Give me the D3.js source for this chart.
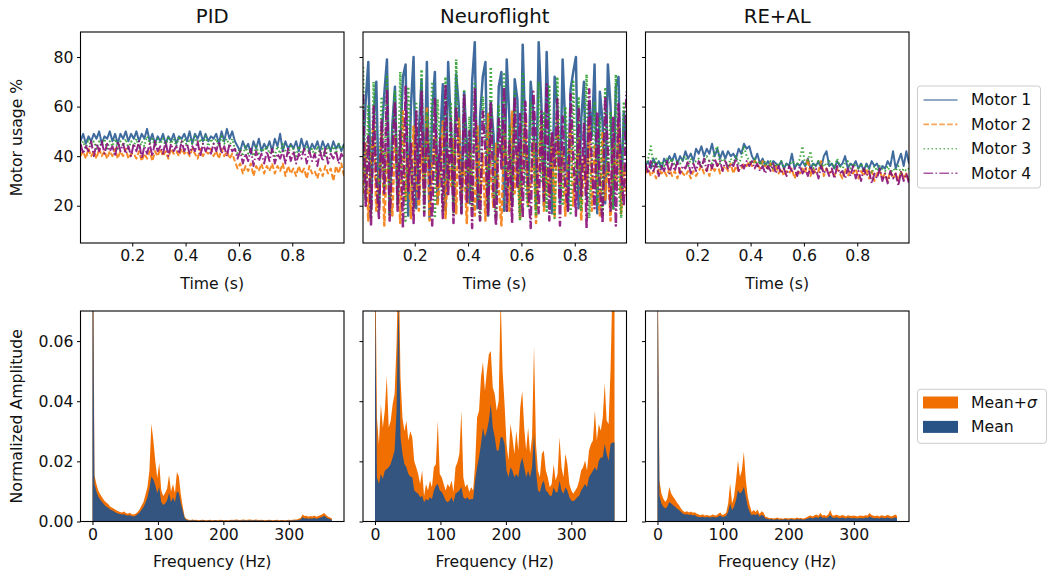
<!DOCTYPE html>
<html>
<head>
<meta charset="utf-8">
<script src="https://cdn.jsdelivr.net/npm/d3@7"></script>
<style>
  body { margin: 0; background: #fff; }
  svg { font-family: "DejaVu Sans", sans-serif; }
</style>
</head>
<body>
<svg id="chart" width="1051" height="576"></svg>
<script>
// ---- data -------------------------------------------------------------
const controllers = ["PID", "Neuroflight", "RE+AL"];
const motorNames = ["Motor 1", "Motor 2", "Motor 3", "Motor 4"];

// sample times (s), 100 samples per trace
const timeS = d3.range(100).map(i => 0.006 + i * 0.00998);

// motor usage % per controller, one array per motor
const pidM1 = [46,49,45,48,46,49,47,50,45,48, 47,50,46,49,45,49,47,50,46,49, 47,50,46,49,47,51,46,49,45,48, 46,49,45,48,46,49,45,48,47,49,
  46,50,45,49,47,50,46,49,46,48, 47,49,45,50,46,51,47,50,46,44, 42,46,43,45,41,46,43,47,42,45, 43,46,42,47,44,49,42,46,43,45,
  43,46,42,47,43,46,42,45,43,46, 42,46,43,45,42,46,43,45,42,45];
const pidM2 = [40,42,39,43,40,42,39,43,40,42, 39,42,40,43,39,42,40,43,39,41, 41,39,42,38,41,39,42,38,42,40, 43,40,42,39,43,41,42,40,43,41,
  42,40,43,41,39,43,40,42,41,43, 40,42,39,43,40,42,39,41,38,35, 37,33,36,34,37,32,36,34,37,33, 36,34,37,33,36,34,37,32,36,33,
  35,32,36,33,35,31,36,33,34,31, 35,32,36,33,35,30,36,33,37,32];
const pidM3 = [44,46,43,47,44,46,43,46,44,47, 43,46,44,47,43,46,44,47,43,46, 44,47,43,46,44,48,45,47,44,47, 45,47,44,48,45,47,44,48,45,47,
  44,47,45,48,44,47,45,48,44,47, 45,47,44,48,45,47,44,47,43,41, 43,40,44,41,43,40,44,41,43,42, 44,41,43,40,44,41,45,42,41,44,
  43,40,44,41,42,44,41,43,40,44, 41,43,40,44,42,44,41,45,43,44];
const pidM4 = [45,41,44,42,46,40,45,42,46,41, 45,42,44,40,46,42,45,41,44,40, 45,42,46,39,44,41,45,40,46,42, 44,41,46,40,45,42,44,41,46,42,
  45,41,44,42,46,40,45,42,44,41, 45,42,46,41,44,40,45,42,43,39, 42,37,41,38,43,36,42,38,41,37, 42,38,43,37,41,39,42,37,43,38,
  42,37,41,39,43,37,42,38,41,36, 42,38,43,37,41,39,42,37,41,39];

const nfM1 = [40,62,78,18,55,70,20,48,65,79, 17,52,68,22,44,72,77,16,60,80, 19,50,71,24,78,15,58,74,21,46, 69,18,78,52,20,73,60,17,66,45,
  21,70,86,19,56,72,78,16,62,49, 23,68,74,18,79,55,20,71,63,17, 85,48,22,70,58,19,86,61,20,82, 46,17,72,60,21,79,52,18,67,74,
  80,19,55,70,23,62,48,77,17,66, 54,21,77,60,19,68,72,22,58,45];
const nfM2 = [25,45,14,38,55,18,30,50,12,42, 28,16,48,35,13,58,22,40,15,52, 30,18,44,26,60,14,36,48,20,32, 54,15,40,28,47,17,55,24,38,13,
  46,30,16,52,22,41,14,57,33,19, 45,27,12,50,36,18,58,25,42,15, 38,55,20,30,46,13,40,52,18,35, 24,48,15,56,28,42,16,38,53,20,
  34,47,14,40,26,55,18,44,30,16, 50,22,38,14,45,28,53,17,36,24];
const nfM3 = [76,22,60,15,70,35,18,64,28,72, 16,48,66,20,74,30,14,68,40,19, 62,25,75,17,58,36,70,15,63,42, 18,72,30,61,16,79,38,20,67,25,
  56,18,70,33,14,64,48,19,76,27, 15,60,40,73,18,52,22,66,35,14, 74,28,19,62,45,16,70,30,58,18, 68,24,15,72,36,20,60,42,17,70,
  26,64,18,50,73,15,38,62,20,55, 16,67,32,58,19,73,28,15,62,40];
const nfM4 = [65,20,48,12,60,30,15,55,25,67, 14,40,62,18,50,11,68,26,45,13, 58,22,66,16,52,35,12,63,28,47, 15,69,24,55,13,60,38,17,65,21,
  50,11,67,30,14,58,42,16,62,25, 12,55,35,68,18,46,13,64,27,57, 15,62,30,11,66,44,17,58,22,69, 14,50,36,63,12,56,28,18,65,40,
  16,60,24,53,11,67,35,19,58,27, 13,64,42,18,56,12,61,33,20,66];

const realM1 = [36,38,35,39,36,38,35,39,37,40, 38,41,37,40,38,42,39,41,38,43, 41,44,40,43,41,45,40,43,39,42, 39,42,40,41,39,43,41,45,43,44,
  40,38,41,37,39,36,38,36,38,37, 36,38,35,37,36,41,35,37,36,38, 36,39,35,37,36,38,35,40,42,36, 37,35,38,36,37,40,35,37,36,38,
  35,37,34,37,35,38,36,37,34,36, 35,38,36,42,35,38,41,36,42,37];
const realM2 = [33,35,32,34,31,35,33,34,32,35, 32,34,31,35,33,32,34,31,34,32, 34,36,33,35,32,36,34,37,33,35, 36,34,37,33,36,34,35,37,36,38,
  36,38,37,35,38,36,35,37,34,36, 33,35,32,34,33,35,31,34,33,35, 33,39,32,35,33,34,38,32,35,33, 34,32,35,33,31,35,32,34,33,35,
  31,34,32,35,31,34,30,33,34,31, 33,30,34,31,33,30,34,31,33,30];
const realM3 = [36,39,44,36,39,35,38,36,39,37, 39,36,38,37,39,40,36,39,37,38, 39,36,38,40,38,37,42,44,37,39, 38,36,39,37,40,37,39,44,40,38,
  37,39,36,38,36,38,35,38,35,37, 36,38,35,37,36,38,37,36,39,44, 36,38,42,35,37,38,35,37,36,38, 37,35,39,36,35,37,38,35,37,36,
  35,37,34,36,35,33,36,34,36,35, 34,36,33,35,34,36,33,35,34,35];
const realM4 = [37,33,38,34,37,32,36,34,38,33, 37,34,38,33,36,35,38,33,37,34, 38,35,39,34,38,35,39,36,38,34, 38,35,37,36,39,34,37,35,38,36,
  38,35,37,34,36,33,36,34,37,33, 36,33,35,32,36,34,35,32,36,33, 35,32,36,33,35,31,36,33,35,32, 35,31,36,33,34,31,35,32,36,31,
  34,30,35,32,34,29,33,31,35,30, 33,29,34,31,33,28,34,30,33,29];

// frequency bins (Hz), 3 Hz apart, 0..366
const freqHz = d3.range(0, 367, 3);

// normalized amplitude, in units of 1e-3 (mean+sigma and mean)
const pidSigma = [150,15.5,12.5,10.2,9.0,8.0,7.0,6.3,5.8,5.0, 4.6,4.2,3.7,3.5,3.2,3.0,3.3,2.8,2.6,2.9, 2.4,2.3,2.6,3.2,4.0,5.3,6.5,9.0,11.5,17.0,
  32.5,27.0,20.0,14.5,19.5,10.5,8.5,9.5,11.0,15.5, 10.0,12.5,9.5,16.5,15.0,9.0,4.8,1.5,0.8,
  0.6,0.5,0.7,0.5,0.6,0.4,0.5,0.6,0.5,0.4, 0.5,0.6,0.4,0.5,0.5,0.4,0.6,0.5,0.4,0.5, 0.4,0.5,0.6,0.5,0.7,0.6,0.5,0.6,0.7,0.5,
  0.6,0.7,0.6,0.5,0.7,0.6,0.5,0.6,0.5,0.4, 0.5,0.6,0.5,0.4,0.5,0.6,0.4,0.5,0.5,0.4, 0.5,0.6,0.5,0.6,0.7,
  0.7,0.9,1.2,2.3,1.8,1.9,1.6,1.8,1.7,2.0,1.6,1.8,2.1,2.4,2.8,2.2,1.6,1.3,0.9];
const pidMean = [120,12.5,10.0,8.2,7.2,6.4,5.6,5.0,4.6,4.0, 3.7,3.3,2.9,2.7,2.5,2.3,2.4,2.1,2.0,2.1, 1.8,1.7,1.9,2.4,3.0,3.9,4.8,6.2,8.0,11.0,
  15.0,14.0,12.0,9.5,11.5,6.5,5.5,6.0,7.0,9.5, 6.5,8.0,6.5,10.0,9.5,6.0,3.5,1.0,0.5,
  0.3,0.3,0.4,0.3,0.3,0.2,0.3,0.3,0.3,0.2, 0.3,0.3,0.2,0.3,0.3,0.2,0.3,0.3,0.2,0.3, 0.2,0.3,0.3,0.3,0.4,0.3,0.3,0.3,0.4,0.3,
  0.3,0.4,0.3,0.3,0.4,0.3,0.3,0.3,0.3,0.2, 0.3,0.3,0.3,0.2,0.3,0.3,0.2,0.3,0.3,0.2, 0.3,0.3,0.3,0.3,0.4,
  0.4,0.5,0.7,1.4,1.0,1.1,0.9,1.0,1.0,1.2,0.9,1.1,1.3,1.5,1.9,1.4,1.0,0.8,0.5];

const nfSigma = [100,34.6,25.8,39,31.3,36.8,48.4,31.3,33.5,39, 42.4,59,90,48,34.6,30,33.5,26.9,30,28, 20,18,15.8,12.5,17,8.5,12.5,10.3,13.6,11.4,
  18,19,33.5,15.8,14.7,12.5,10.3,12.5,11.4,13.6, 9.8,18,19.7,22.5,36.8,14.7,11.4,12.5,9.8,11.4, 10.3,19,34.6,36.8,48,53,43.5,50,55.6,56.7,
  44.6,42.4,36.8,40,75,50,39,25.8,20.3,32.4, 28,22.5,30.2,23.6,38,43.5,31.3,23.6,31.3,22.5, 28,58.4,25.8,17,14.7,22.5,23.6,17,14.7,11.4,
  12.5,19,13.6,15.8,28,18,14.7,22.5,19,12.5, 10.3,9.2,10.3,11.4,13.6,17,18,20.3,17,23.6, 25.8,26.9,36.8,26.9,32.4,30.2,34.6,46,33.5,32.4,
  51,80,90];
const nfMean = [80,14.7,12.5,15.8,14.2,16.9,17.5,18,19.1,21.3, 23.6,36.8,75,28,22.5,19.1,18,15.8,15,14.7, 10.3,9.7,9.2,8.1,8.6,6.4,7.5,7.0,8.1,7.5,
  10.3,11.9,12.5,10.3,9.8,8.6,7.0,6.4,7.0,8.1, 6.4,9.2,9.7,10.3,11.5,8.1,7.5,8.1,7.2,7.5, 7.5,13.6,18,21.3,25.8,31.3,28,30.2,33.5,39,
  31.3,28,23.6,23.6,28,28,25.8,16.9,14.7,18, 16.9,14.7,15.8,14.7,19,21.3,18,14.7,16.9,14.7, 18,29,16.9,10.3,9.7,12.5,13.6,10.3,9.7,8.6,
  8.6,11.4,9.7,9.7,13.6,10.3,9.2,11.4,10.3,8.1, 7.0,6.7,7.2,8.1,8.6,10.3,11.4,12.5,11.4,14.7, 15.8,16.9,18,16.9,20.2,21.3,21.3,25.8,22.5,20.2,
  25.8,26.3,26.3];

const realSigma = [100,13.7,9.3,7.6,6.5,7.6,11.5,9.3,8.2,7.3, 6.2,5.4,4.3,3.5,3.2,3.4,3.0,3.3,2.9,3.1, 2.6,2.3,2.1,2.4,2.0,2.2,2.0,1.9,2.3,2.1,
  2.0,2.6,3.0,2.2,2.4,2.9,6.0,12.6,6.0,8.2, 13.7,20.4,14.8,17.1,23.2,13.7,8.2,5.4,3.2,3.8, 3.2,4.0,2.4,3.4,3.0,1.6,1.4,
  1.1,1.2,1.0,1.1,1.3,1.0,1.1,0.9,1.2,1.1,1.0,1.2,1.1,1.0,1.3,1.1,1.2,1.0,1.1,1.4,
  1.8,2.0,1.7,2.1,2.3,1.9,2.9,2.0,2.2,1.8,2.4,3.8,2.1,1.9,2.3,2.0,1.8,2.2,2.0,1.7,2.1,1.9,1.8,2.0,
  1.8,1.7,2.0,1.9,1.8,2.1,2.0,2.8,2.2,1.9,1.8,2.0,1.7,2.1,1.9,1.8,2.2,2.0,1.7,1.9,2.3,1.9];
const realMean = [90,8.5,6.0,4.9,4.3,4.9,6.5,6.0,5.4,4.9, 4.2,3.8,3.2,2.6,2.3,2.4,2.2,2.3,2.0,2.2, 1.7,1.5,1.4,1.6,1.3,1.5,1.4,1.3,1.5,1.4,
  1.3,1.7,2.0,1.5,1.6,1.9,3.2,6.0,3.8,4.9, 7.1,10.4,9.3,10.0,11.5,8.2,4.9,3.2,2.1,2.4, 2.1,2.6,1.6,2.2,1.9,1.0,0.9,
  0.7,0.8,0.6,0.7,0.8,0.6,0.7,0.6,0.8,0.7,0.6,0.8,0.7,0.6,0.8,0.7,0.8,0.6,0.7,0.9,
  1.1,1.3,1.0,1.3,1.4,1.2,1.8,1.2,1.3,1.1,1.5,2.2,1.3,1.2,1.4,1.2,1.1,1.3,1.2,1.0,1.3,1.2,1.1,1.2,
  1.1,1.0,1.2,1.1,1.1,1.3,1.2,1.7,1.3,1.2,1.1,1.2,1.0,1.3,1.2,1.1,1.3,1.2,1.0,1.1,1.4,1.1];

const motorData = [[pidM1, pidM2, pidM3, pidM4], [nfM1, nfM2, nfM3, nfM4], [realM1, realM2, realM3, realM4]];
const specData = [[pidSigma, pidMean], [nfSigma, nfMean], [realSigma, realMean]];

// ---- layout -----------------------------------------------------------
const svg = d3.select("#chart");
const fs = 15.7;
const cols = [80.5, 363, 645.5], pw = 263.5;
const topY = 32, topH = 211, botY = 311, botH = 210.5;

const motorColor = ["#2b5b93", "#f57d0f", "#2ea12e", "#8a0f7a"];
const motorDash = [null, "5.5,2.4", "1.5,2.5", "9.6,2.4,1.5,2.4"];
const orange = "#f06f00", blue = "#285386";

const x = d3.scaleLinear().domain([0.006, 0.994]).range([0, pw]);
const y = d3.scaleLinear().domain([4.95, 90.1]).range([topH, 0]);
const fx = d3.scaleLinear().domain([-18.3, 384.3]).range([0, pw]);
const fy = d3.scaleLinear().domain([0, 0.07]).range([botH, 0]);

function styleAxis(g) {
  g.select(".domain").remove();
  g.selectAll(".tick line").attr("stroke", "#000").attr("stroke-width", 1);
  g.selectAll(".tick text").attr("fill", "#111").style("font-size", fs + "px").style("font-family", "DejaVu Sans");
}

function frame(g, h) {
  g.append("rect").attr("width", pw).attr("height", h)
    .attr("fill", "none").attr("stroke", "#000").attr("stroke-width", 1.1);
}

const line = d3.line().x((d, i) => x(timeS[i])).y(d => y(d));
const area = d3.area().x((d, i) => fx(freqHz[i])).y0(fy(0)).y1(d => fy(d / 1000));

controllers.forEach((name, c) => {
  // top: motor usage
  const g = svg.append("g").attr("transform", `translate(${cols[c]},${topY})`);
  svg.append("clipPath").attr("id", "clipT" + c).append("rect").attr("width", pw).attr("height", topH);
  const plot = g.append("g").attr("clip-path", `url(#clipT${c})`);
  motorData[c].forEach((vals, m) => {
    plot.append("path").datum(vals).attr("d", line)
      .attr("fill", "none").attr("stroke", motorColor[m]).attr("stroke-width", c === 1 ? 2.5 : 2.0)
      .attr("stroke-opacity", 0.9).attr("stroke-linejoin", "round").attr("stroke-dasharray", motorDash[m]);
  });
  g.append("g").attr("transform", `translate(0,${topH})`)
    .call(d3.axisBottom(x).tickValues([0.2, 0.4, 0.6, 0.8]).tickFormat(d3.format(".1f")).tickSize(3.5).tickPadding(3.5))
    .call(styleAxis);
  g.append("g")
    .call(d3.axisLeft(y).tickValues([20, 40, 60, 80]).tickSize(3.5).tickPadding(3.5).tickFormat(c === 0 ? d3.format("d") : ""))
    .call(styleAxis);
  frame(g, topH);
  g.append("text").attr("x", pw / 2).attr("y", -9.5).attr("text-anchor", "middle")
    .style("font-size", "19.7px").attr("fill", "#111").text(name);
  g.append("text").attr("x", pw / 2).attr("y", 256.5).attr("text-anchor", "middle")
    .style("font-size", fs + "px").attr("fill", "#111").text("Time (s)");

  // bottom: spectrum
  const b = svg.append("g").attr("transform", `translate(${cols[c]},${botY})`);
  svg.append("clipPath").attr("id", "clipB" + c).append("rect").attr("width", pw).attr("height", botH);
  const sp = b.append("g").attr("clip-path", `url(#clipB${c})`);
  sp.append("path").datum(specData[c][0]).attr("d", area).attr("fill", orange);
  sp.append("path").datum(specData[c][1]).attr("d", area).attr("fill", blue).attr("fill-opacity", 0.95);
  b.append("g").attr("transform", `translate(0,${botH})`)
    .call(d3.axisBottom(fx).tickValues([0, 100, 200, 300]).tickSize(3.5).tickPadding(3.5))
    .call(styleAxis);
  b.append("g")
    .call(d3.axisLeft(fy).tickValues([0, 0.02, 0.04, 0.06]).tickSize(3.5).tickPadding(3.5).tickFormat(c === 0 ? d3.format(".2f") : ""))
    .call(styleAxis);
  frame(b, botH);
  b.append("text").attr("x", pw / 2).attr("y", 256).attr("text-anchor", "middle")
    .style("font-size", fs + "px").attr("fill", "#111").text("Frequency (Hz)");
});

// y axis labels
svg.append("text").attr("transform", `translate(22,${topY + topH / 2}) rotate(-90)`).attr("text-anchor", "middle")
  .style("font-size", fs + "px").attr("fill", "#111").text("Motor usage %");
svg.append("text").attr("transform", `translate(22,${botY + botH / 2}) rotate(-90)`).attr("text-anchor", "middle")
  .style("font-size", fs + "px").attr("fill", "#111").text("Normalized Amplitude");

// legend: motors
const lg = svg.append("g").attr("transform", "translate(917.5,86)");
lg.append("rect").attr("width", 123).attr("height", 102).attr("rx", 3)
  .attr("fill", "#fff").attr("fill-opacity", 0.8).attr("stroke", "#cccccc");
motorNames.forEach((n, m) => {
  const yy = 14 + m * 24.4;
  lg.append("line").attr("x1", 6).attr("x2", 40).attr("y1", yy).attr("y2", yy)
    .attr("stroke", motorColor[m]).attr("stroke-width", 1.6).attr("stroke-opacity", 0.7)
    .attr("stroke-dasharray", motorDash[m]);
  lg.append("text").attr("x", 53.5).attr("y", yy).attr("dy", "0.35em")
    .style("font-size", fs + "px").attr("fill", "#111").text(n);
});

// legend: spectrum
const ls = svg.append("g").attr("transform", "translate(917.5,389.3)");
ls.append("rect").attr("width", 129).attr("height", 54).attr("rx", 3)
  .attr("fill", "#fff").attr("fill-opacity", 0.8).attr("stroke", "#cccccc");
[[orange, "Mean+", "σ"], [blue, "Mean", ""]].forEach(([col, t, s], k) => {
  const yy = 13.2 + k * 24.4;
  ls.append("rect").attr("x", 5.5).attr("y", yy - 6).attr("width", 35).attr("height", 12).attr("fill", col);
  const tx = ls.append("text").attr("x", 53.5).attr("y", yy).attr("dy", "0.35em")
    .style("font-size", fs + "px").attr("fill", "#111").text(t);
  if (s) tx.append("tspan").style("font-style", "italic").text(s);
});
</script>
</body>
</html>
